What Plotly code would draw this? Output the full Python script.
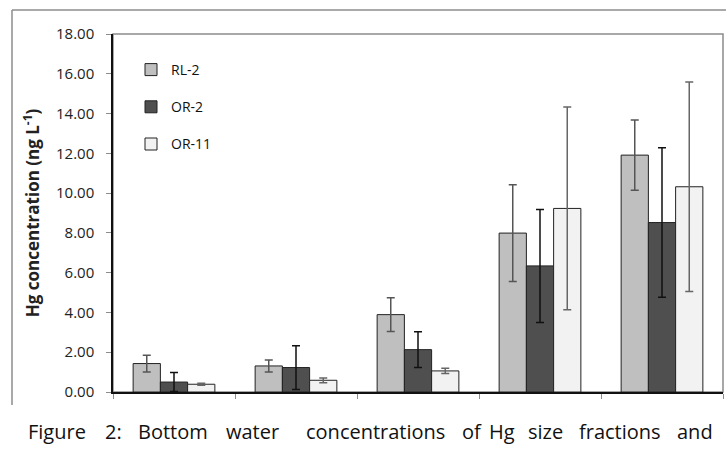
import plotly.graph_objects as go

# ---- data ----
categories = ["F1", "F2", "F3", "F4", "F5"]
series_names = ["RL-2", "OR-2", "OR-11"]
rl2 = [1.43, 1.31, 3.89, 7.99, 11.91]
rl2_err = [0.42, 0.30, 0.85, 2.43, 1.77]
or2 = [0.50, 1.23, 2.13, 6.34, 8.52]
or2_err = [0.48, 1.10, 0.90, 2.84, 3.76]
or11 = [0.39, 0.59, 1.06, 9.23, 10.32]
or11_err = [0.05, 0.12, 0.13, 5.10, 5.27]
y_tickvals = [0, 2, 4, 6, 8, 10, 12, 14, 16, 18]
caption_words = ["Figure", "2:", "Bottom", "water", "concentrations", "of", "Hg", "size", "fractions", "and"]

W, H = 726, 456
L, R, T, B = 113, 3, 34, 64
PW, PH = W - L - R, H - T - B

def px_x(px):
    return (px - L) / PW

def px_y(py):
    return (H - B - py) / PH

FONT = "Open Sans"
fills = ["#bfbfbf", "#4f4f4f", "#f2f2f2"]
err_cols = ["#555555", "#111111", "#666666"]
vals = [rl2, or2, or11]
errs = [rl2_err, or2_err, or11_err]

fig = go.Figure()
for i, name in enumerate(series_names):
    fig.add_trace(go.Bar(
        x=categories, y=vals[i], name=name, legendgroup=name,
        marker=dict(color=fills[i], line=dict(color="#222222", width=1)),
        error_y=dict(type="data", array=errs[i], visible=True,
                     color=err_cols[i], thickness=1.5, width=4),
    ))

shapes = [
    dict(type="rect", xref="paper", yref="paper", x0=0, x1=1, y0=0, y1=1,
         line=dict(color="#8c8c8c", width=1.5), layer="below"),
    dict(type="line", xref="paper", yref="paper", x0=px_x(12), x1=px_x(12),
         y0=px_y(405), y1=px_y(10), line=dict(color="#8c8c8c", width=1.5)),
    dict(type="line", xref="paper", yref="paper", x0=px_x(12), x1=px_x(730),
         y0=px_y(10), y1=px_y(10), line=dict(color="#8c8c8c", width=1.5)),
]

word_cx = [56.5, 113.5, 172.5, 252.5, 375.5, 472, 501.5, 545, 620, 695]
annotations = []
for wx, w in zip(word_cx, caption_words):
    annotations.append(dict(text=w, xref="paper", yref="paper", x=px_x(wx), y=px_y(431),
                            xanchor="center", yanchor="middle", showarrow=False,
                            font=dict(family=FONT, size=20, color="#111111")))

fig.update_layout(
    width=W, height=H,
    margin=dict(l=L, r=R, t=T, b=B, pad=0),
    paper_bgcolor="white", plot_bgcolor="white",
    barmode="group", bargap=0.33, bargroupgap=0,
    font=dict(family=FONT, size=14, color="#222222"),
    showlegend=True,
    legend=dict(x=px_x(131), y=px_y(54), xanchor="left", yanchor="top",
                bgcolor="rgba(0,0,0,0)", font=dict(family=FONT, size=14, color="#111111"),
                tracegroupgap=16, itemwidth=30),
    shapes=shapes,
    annotations=annotations,
)
fig.update_xaxes(showticklabels=False, tickson="boundaries", ticks="outside",
                 ticklen=5, tickcolor="#8c8c8c", showline=True, linecolor="#111111",
                 linewidth=1.5, showgrid=False, zeroline=False)
fig.update_yaxes(range=[0, 18], tickvals=y_tickvals, tickformat=".2f", ticks="outside",
                 ticklen=5, tickcolor="#8c8c8c", showline=True, linecolor="#111111",
                 linewidth=1.5, showgrid=False, zeroline=False, ticklabelstandoff=9,
                 tickfont=dict(family=FONT, size=15, color="#222222"),
                 title=dict(text="<b>Hg concentration (ng L<sup>-1</sup>)</b>",
                            font=dict(family=FONT, size=17, color="#222222"), standoff=12))

fig.write_html("out.html")
